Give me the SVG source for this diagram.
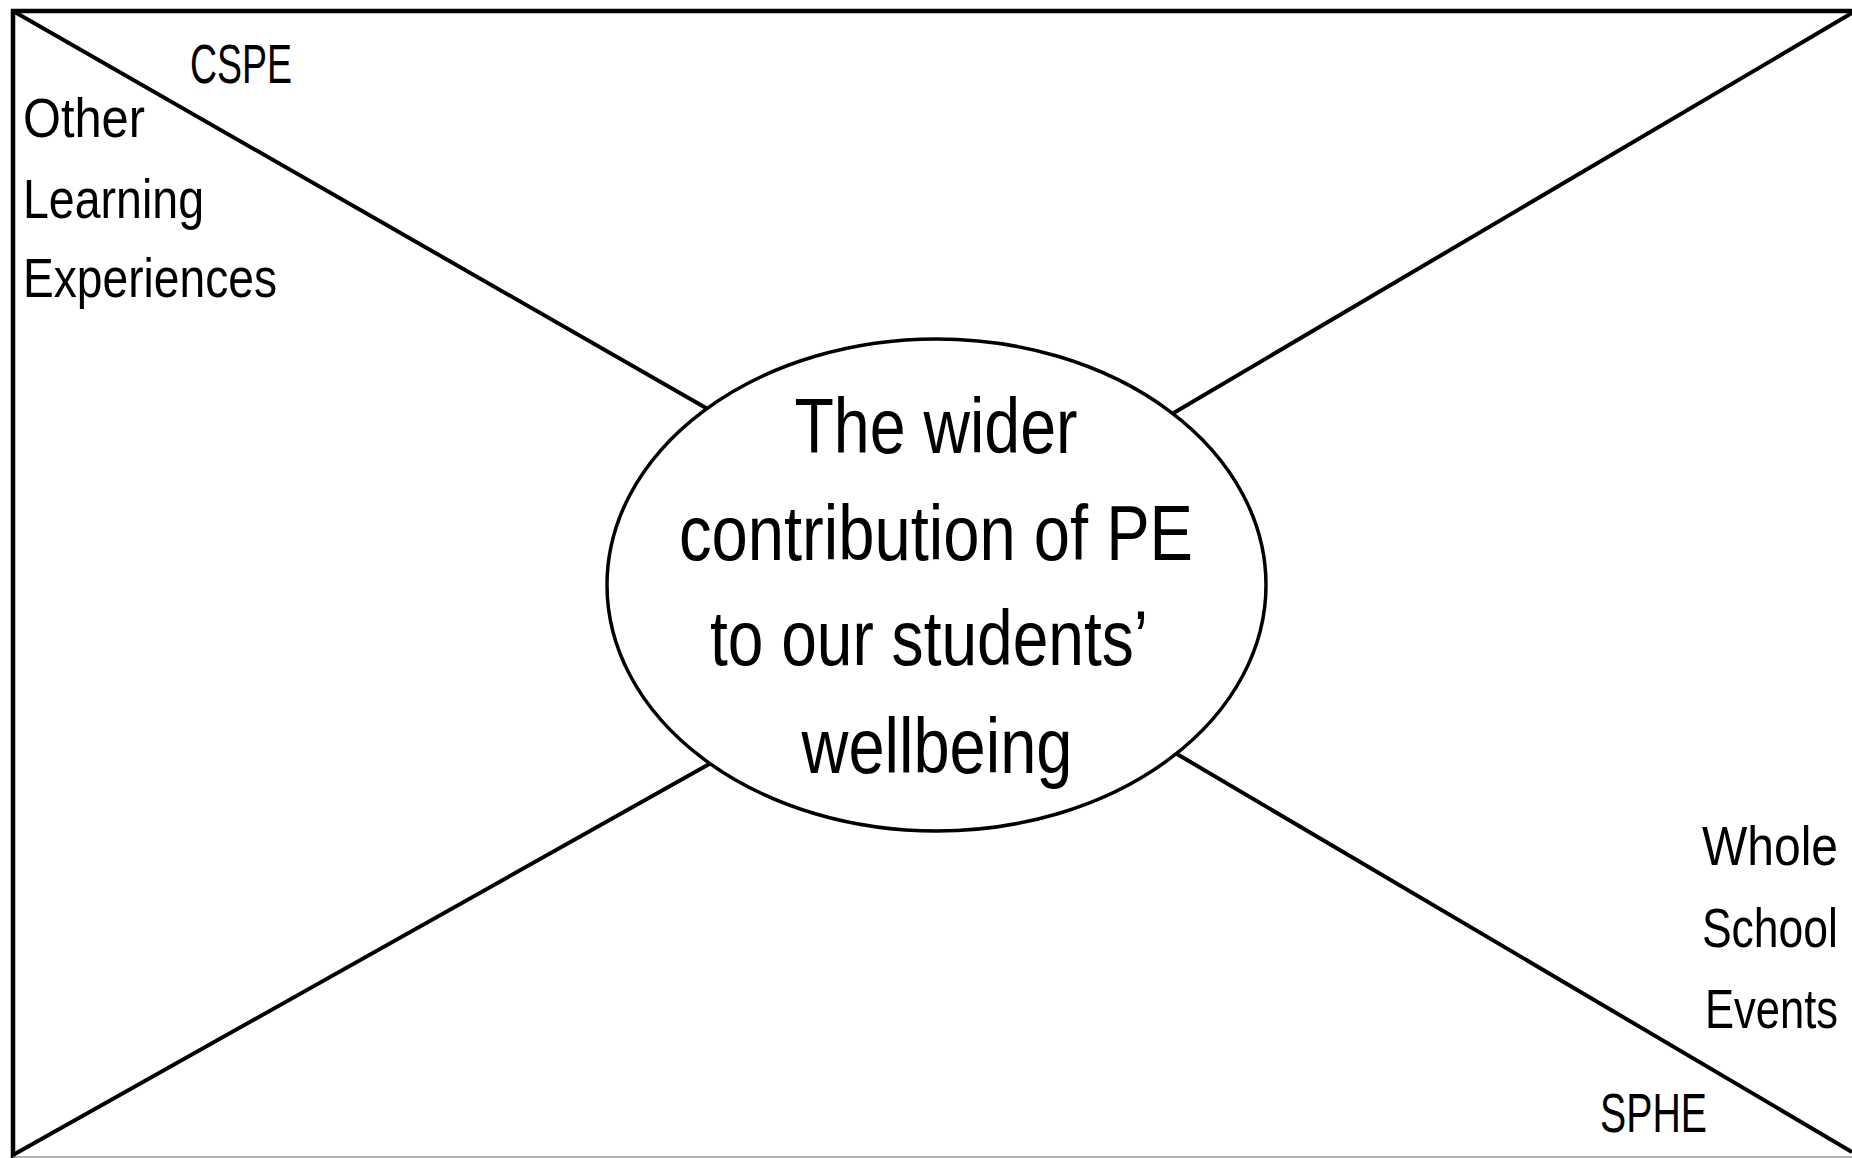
<svg xmlns="http://www.w3.org/2000/svg" width="1852" height="1158" viewBox="0 0 1852 1158">
<style>
.frame{fill:none;stroke:#000;stroke-width:4.5}
.conn{stroke:#000;stroke-width:4;fill:none}
.hub{fill:#fff;stroke:#000;stroke-width:3.5}
.lbl{font-family:"Liberation Sans",Arial,sans-serif;font-size:56px;fill:#000}
.rt{font-family:"Liberation Sans",Arial,sans-serif;font-size:56px;fill:#000;text-anchor:end}
.big{font-family:"Liberation Sans",Arial,sans-serif;font-size:78px;fill:#000;text-anchor:middle}
</style>
<rect width="1852" height="1158" fill="#fff"/>
<path class="frame" d="M1852,11 H13 V1158"/>
<line x1="13" y1="1157" x2="1852" y2="1157" stroke="#999" stroke-width="1.5"/>
<g id="connectors">
<line class="conn" x1="13" y1="11" x2="720" y2="416"/>
<line class="conn" x1="1852" y1="13" x2="1160" y2="421"/>
<line class="conn" x1="13" y1="1155" x2="720" y2="758"/>
<line class="conn" x1="1160" y1="744" x2="1852" y2="1152"/>
</g>
<g id="center">
<ellipse class="hub" cx="936.5" cy="585" rx="329.5" ry="246"/>
<text class="big" x="936" y="453" textLength="283" lengthAdjust="spacingAndGlyphs">The wider</text>
<text class="big" x="936" y="560" textLength="514" lengthAdjust="spacingAndGlyphs">contribution of PE</text>
<text class="big" x="929" y="665" textLength="438" lengthAdjust="spacingAndGlyphs">to our students’</text>
<text class="big" x="937" y="773" textLength="271" lengthAdjust="spacingAndGlyphs">wellbeing</text>
</g>
<g id="cspe">
<text class="lbl" x="190" y="83" textLength="102" lengthAdjust="spacingAndGlyphs">CSPE</text>
</g>
<g id="ole">
<text class="lbl" x="23" y="137" textLength="122" lengthAdjust="spacingAndGlyphs">Other</text>
<text class="lbl" x="23" y="218" textLength="181" lengthAdjust="spacingAndGlyphs">Learning</text>
<text class="lbl" x="23" y="297" textLength="254" lengthAdjust="spacingAndGlyphs">Experiences</text>
</g>
<g id="wse">
<text class="rt" transform="translate(1838,865) scale(0.857,1)">Whole</text>
<text class="rt" transform="translate(1838,947) scale(0.795,1)">School</text>
<text class="rt" transform="translate(1838,1028) scale(0.777,1)">Events</text>
</g>
<g id="sphe">
<text class="lbl" x="1600" y="1132" textLength="107" lengthAdjust="spacingAndGlyphs">SPHE</text>
</g>
</svg>
